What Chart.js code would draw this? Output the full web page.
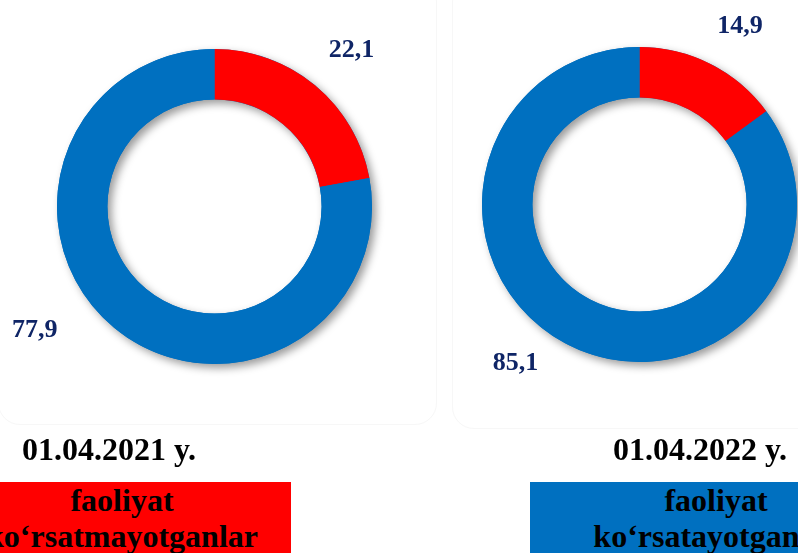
<!DOCTYPE html>
<html>
<head>
<meta charset="utf-8">
<script src="https://cdn.jsdelivr.net/npm/chart.js@4.4.0/dist/chart.umd.min.js"></script>
<style>
  body { margin: 0; background: #fff; }
  #page { position: relative; width: 798px; height: 553px; overflow: hidden; font-family: "Liberation Serif", "Times New Roman", serif; }
  canvas { position: absolute; left: 0; top: 0; }
  .panel { position: absolute; border: 1px solid #f7f7f7; border-radius: 22px; }
  .date { position: absolute; width: 200px; text-align: center; font-size: 32px; font-weight: bold; line-height: 32px; color: #000; }
  .legend-box { position: absolute; top: 482px; height: 90px; text-align: center; font-size: 32px; font-weight: bold; line-height: 36px; color: #000; white-space: nowrap; }
</style>
</head>
<body>
<div id="page">
  <div class="panel" style="left:-2px; top:-20px; width:437px; height:443px;"></div>
  <div class="panel" style="left:452px; top:-20px; width:400px; height:447px;"></div>
  <canvas id="chart2021" width="798" height="553"></canvas>
  <canvas id="chart2022" width="798" height="553"></canvas>
  <div class="date" id="date0" style="left:9px; top:433px;"></div>
  <div class="date" id="date1" style="left:600px; top:433px;"></div>
  <div class="legend-box" id="legend0" style="left:-47px; width:338px; background:#ff0000;"></div>
  <div class="legend-box" id="legend1" style="left:530px; width:372px; background:#0070c0;"></div>
</div>
<script>
// data
const categories = ["faoliyat ko‘rsatmayotganlar", "faoliyat ko‘rsatayotganlar"];
const values2021 = [22.1, 77.9];
const values2022 = [14.9, 85.1];
const dateLabels = ["01.04.2021 y.", "01.04.2022 y."];

const RED = "#ff0000";
const BLUE = "#0070c0";
const LABEL_COLOR = "#0f2566";

// shadow ring drawn under the arcs so the arcs themselves stay clean
const ringShadow = {
  id: "ringShadow",
  beforeDatasetsDraw(chart) {
    const arc = chart.getDatasetMeta(0).data[0];
    if (!arc) return;
    const { x, y, outerRadius, innerRadius } = arc.getProps(["x", "y", "outerRadius", "innerRadius"], true);
    const ctx = chart.ctx;
    ctx.save();
    ctx.beginPath();
    ctx.arc(x, y, outerRadius, 0, Math.PI * 2);
    ctx.arc(x, y, innerRadius, 0, Math.PI * 2, true);
    ctx.shadowColor = "rgba(0,0,0,0.4)";
    ctx.shadowBlur = 9;
    ctx.shadowOffsetX = 4;
    ctx.shadowOffsetY = 4;
    ctx.fillStyle = BLUE;
    ctx.fill();
    ctx.restore();
  }
};

// value labels outside the ring
const outerLabels = {
  id: "outerLabels",
  afterDatasetsDraw(chart, args, opts) {
    const ctx = chart.ctx;
    const values = chart.data.datasets[0].data;
    ctx.save();
    ctx.font = "bold 26px 'Liberation Serif', 'Times New Roman', serif";
    ctx.fillStyle = LABEL_COLOR;
    ctx.textAlign = "center";
    ctx.textBaseline = "middle";
    chart.getDatasetMeta(0).data.forEach((arc, i) => {
      const p = arc.getProps(["x", "y", "startAngle", "endAngle", "outerRadius"], true);
      const off = opts.offsets[i];
      const a = (p.startAngle + p.endAngle) / 2 + off.angle * Math.PI / 180;
      const r = p.outerRadius + off.dist;
      ctx.fillText(values[i].toFixed(1).replace(".", ","), p.x + Math.cos(a) * r, p.y + Math.sin(a) * r);
    });
    ctx.restore();
  }
};

function makeDoughnut(id, values, padding, offsets) {
  return new Chart(document.getElementById(id), {
    type: "doughnut",
    data: {
      labels: categories,
      datasets: [{
        data: values,
        backgroundColor: [RED, BLUE],
        borderWidth: 0,
        hoverOffset: 0
      }]
    },
    options: {
      responsive: false,
      animation: false,
      cutout: "68%",
      layout: { padding: padding },
      plugins: {
        legend: { display: false },
        tooltip: { enabled: false },
        outerLabels: { offsets: offsets }
      }
    },
    plugins: [ringShadow, outerLabels]
  });
}

makeDoughnut("chart2021", values2021,
  { left: 57, right: 426, top: 49, bottom: 189 },
  [{ angle: 1.5, dist: 50 }, { angle: 15.6, dist: 61 }]);

makeDoughnut("chart2022", values2022,
  { left: 482, right: 1, top: 47, bottom: 191 },
  [{ angle: 2.6, dist: 47 }, { angle: 11.2, dist: 44 }]);

document.getElementById("date0").textContent = dateLabels[0];
document.getElementById("date1").textContent = dateLabels[1];
document.getElementById("legend0").innerHTML = categories[0].replace(" ", "<br>");
document.getElementById("legend1").innerHTML = categories[1].replace(" ", "<br>");
</script>
</body>
</html>
